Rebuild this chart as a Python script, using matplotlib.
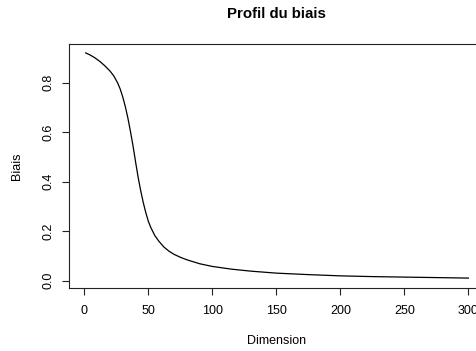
import matplotlib
matplotlib.use("Agg")
import matplotlib.pyplot as plt

# values
dimension = [1, 4, 8, 12, 16, 20, 23, 26, 28, 30, 32, 34, 36, 38, 40, 42, 44,
             46, 48, 50, 52, 55, 58, 62, 66, 70, 75, 80, 90, 100, 115, 130,
             150, 175, 200, 225, 250, 275, 300]
biais = [0.920, 0.913, 0.901, 0.886, 0.868, 0.847, 0.827, 0.799, 0.774, 0.742,
         0.703, 0.657, 0.603, 0.545, 0.480, 0.418, 0.364, 0.316, 0.275, 0.240,
         0.214, 0.183, 0.161, 0.137, 0.120, 0.107, 0.095, 0.085, 0.069, 0.058,
         0.047, 0.039, 0.031, 0.025, 0.020, 0.017, 0.015, 0.013, 0.011]

x_ticks = [0, 50, 100, 150, 200, 250, 300]
y_ticks = [0.0, 0.2, 0.4, 0.6, 0.8]

plt.rcParams['font.family'] = ['Liberation Sans', 'DejaVu Sans']
plt.rcParams['font.size'] = 9

W, H = 476, 351
fig = plt.figure(figsize=(W / 100, H / 100), dpi=100)
# plot box runs past the right edge of the picture, as in the reference
ax = fig.add_axes([69 / W, (H - 287.5) / H, (483.8 - 69) / W, (287.5 - 44) / H])

ax.plot(dimension, biais, color='black', linewidth=0.9)

ax.set_xlim(-12, 312)
ax.set_ylim(-0.027, 0.956)
ax.set_xticks(x_ticks)
ax.set_xticklabels([str(v) for v in x_ticks])
ax.set_yticks(y_ticks)
ax.set_yticklabels(['%.1f' % v for v in y_ticks], rotation=90, va='center')

for s in ax.spines.values():
    s.set_linewidth(0.8)
    s.set_color('#222222')
ax.tick_params(direction='out', length=5, width=0.8, color='#222222')
ax.tick_params(axis='x', pad=7.6)
ax.tick_params(axis='y', pad=5.5)

ax.set_title('Profil du biais', fontsize=10.8, fontweight='bold', pad=18.5)
ax.set_xlabel('Dimension')
ax.xaxis.set_label_coords(0.5, -0.194)
ax.set_ylabel('Biais')
ax.yaxis.set_label_coords(-0.112, 0.5)

fig.savefig('out.png', dpi=100)
